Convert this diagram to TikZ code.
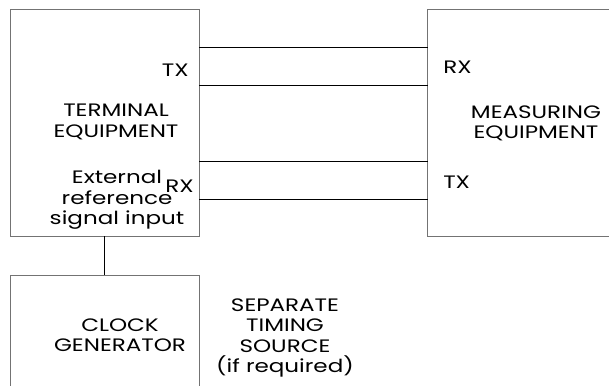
\documentclass[tikz,border=0pt]{standalone}
\usepackage{fontspec}
\setmainfont{Poppins}[FakeStretch=1.28]
\usetikzlibrary{positioning}

\tikzset{
  unitbox/.style={draw=black!55, line width=0.75pt, inner sep=0pt, outer sep=0pt, anchor=north west},
  txt/.style={font=\fontsize{13.5}{15.2}\selectfont, align=center, inner sep=0pt},
  wire/.style={line width=0.7pt}
}

\begin{document}
\begin{tikzpicture}[x=0.75pt, y=-0.75pt]
\useasboundingbox (0,0) rectangle (609,385);
\clip (0,0) rectangle (609,385);

% equipment boxes
\node[unitbox, minimum width=141.75pt, minimum height=170pt] (term) at (10,9.5) {};
\node[unitbox, minimum width=150pt, minimum height=170pt] (meas) at (427.5,9.5) {};
\node[unitbox, minimum width=141.75pt, minimum height=120pt] (clock) at (10,275) {};

% line levels
\coordinate (l1) at (0,47);
\coordinate (l2) at (0,85);
\coordinate (l3) at (0,161);
\coordinate (l4) at (0,199);

\draw[wire] (term.east |- l1) -- (meas.west |- l1);
\draw[wire] (term.east |- l2) -- (meas.west |- l2);
\draw[wire] (term.east |- l3) -- (meas.west |- l3);
\draw[wire] (term.east |- l4) -- (meas.west |- l4);
\draw[wire] (term.south) -- (clock.north);

% texts
\node[txt, anchor=east] (termtx) at (189,70) {TX};
\node[txt, anchor=east] (termrx) at (194,186) {RX};
\node[txt] (termname) at (116,122) {TERMINAL\\EQUIPMENT};
\node[txt] (extref) at (117,200) {External\\reference\\signal input};

\node[txt, anchor=west] (measrx) at (443,67) {RX};
\node[txt, anchor=west] (meastx) at (443,182) {TX};
\node[txt] (measname) at (536,123) {MEASURING\\EQUIPMENT};

\node[txt] (clockname) at (120,335) {CLOCK\\GENERATOR};
\node[txt] (timing) at (285,338) {SEPARATE\\TIMING\\SOURCE\\(if required)};
\end{tikzpicture}
\end{document}
